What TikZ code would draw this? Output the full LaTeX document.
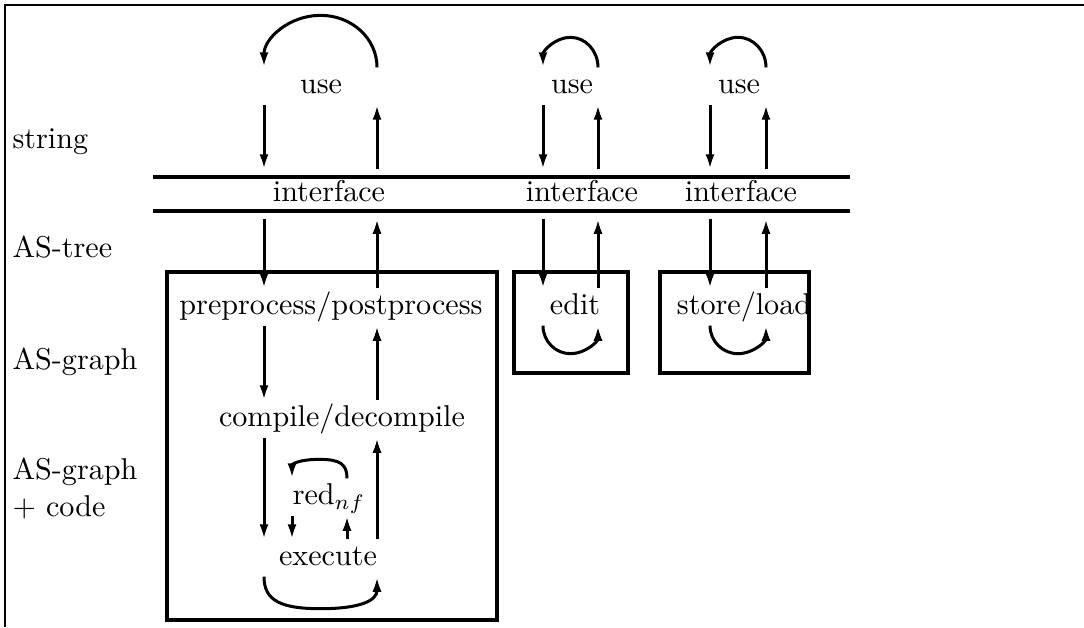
\documentclass[tikz,border=0pt]{standalone}
\usetikzlibrary{arrows.meta,calc}
\newcommand\myloop[5]{%
  \draw[arr] (#1) .. controls ($(#1)+(0,#4)$) and ($(#1)!#5!(#2)+(0,#3)$) ..
    ($(#1)!.5!(#2)+(0,#3)$) .. controls ($(#2)!#5!(#1)+(0,#3)$) and ($(#2)+(0,#4)$) .. (#2);}
\begin{document}
\begin{tikzpicture}[x=0.332pt,y=-0.332pt,
  lbl/.style={inner sep=0pt, text height=6.9pt, text depth=1.9pt, minimum height=12pt},
  iflbl/.style={lbl, minimum height=16pt},
  layer/.style={inner sep=0pt, anchor=base west},
  arr/.style={line width=1pt, -{Latex[length=5pt,width=3pt]}},
  band/.style={line width=1.3pt},
  box/.style={draw, line width=1.3pt},
  frame/.style={line width=0.7pt}
]
\useasboundingbox (0,0) rectangle (1084,627);
\draw[frame] (5,627) -- (5,5) -- (1084,5);

% columns
\coordinate (L1) at (264,0);
\coordinate (R1) at (377,0);
\coordinate (L2) at (543,0);
\coordinate (R2) at (598,0);
\coordinate (L3) at (710,0);
\coordinate (R3) at (766,0);
\coordinate (Lr) at (292,0);
\coordinate (Rr) at (347,0);

% layer labels
\node[layer] (s1) at (12,148) {string};
\node[layer] (s2) at (12,257) {AS-tree};
\node[layer] (s3) at (12,369) {AS-graph};
\node[layer] (s4) at (12,479) {AS-graph};
\node[layer] (s5) at (12,516) {$+$ code};

% interface band
\draw[band] (153,177) -- (850,177);
\draw[band] (153,211) -- (850,211);

% boxes
\draw[box] (167,272) rectangle (497,620);
\draw[box] (514,272) rectangle (628,373);
\draw[box] (660,272) rectangle (809,373);

% text nodes
\node[lbl] (use1) at (321,86) {use};
\node[lbl] (use2) at (572,86) {use};
\node[lbl] (use3) at (739,86) {use};
\node[iflbl] (if1) at (329,194) {interface};
\node[iflbl] (if2) at (582,194) {interface};
\node[iflbl] (if3) at (741,194) {interface};
\node[lbl] (pre) at (331,307) {preprocess/postprocess};
\node[lbl] (edit) at (575,307) {edit};
\node[lbl] (store) at (744,307) {store/load};
\node[lbl] (comp) at (342,419) {compile/decompile};
\node[lbl] (red) at (329,497) {red$_{nf}$};
\node[lbl] (exec) at (328,558) {execute};

% group 1 vertical arrows
\draw[arr] (use1.south -| L1) -- (if1.north -| L1);
\draw[arr] (if1.north -| R1) -- (use1.south -| R1);
\draw[arr] (if1.south -| L1) -- (pre.north -| L1);
\draw[arr] (pre.north -| R1) -- (if1.south -| R1);
\draw[arr] (pre.south -| L1) -- (comp.north -| L1);
\draw[arr] (comp.north -| R1) -- (pre.south -| R1);
\draw[arr] (comp.south -| L1) -- (exec.north -| L1);
\draw[arr] (exec.north -| R1) -- (comp.south -| R1);
\draw[arr] (red.south -| Lr) -- (exec.north -| Lr);
\draw[arr] (exec.north -| Rr) -- (red.south -| Rr);

% group 2
\draw[arr] (use2.south -| L2) -- (if2.north -| L2);
\draw[arr] (if2.north -| R2) -- (use2.south -| R2);
\draw[arr] (if2.south -| L2) -- (edit.north -| L2);
\draw[arr] (edit.north -| R2) -- (if2.south -| R2);

% group 3
\draw[arr] (use3.south -| L3) -- (if3.north -| L3);
\draw[arr] (if3.north -| R3) -- (use3.south -| R3);
\draw[arr] (if3.south -| L3) -- (store.north -| L3);
\draw[arr] (store.north -| R3) -- (if3.south -| R3);

% loop end points
\coordinate (u1a) at (use1.north -| R1);
\coordinate (u1b) at (use1.north -| L1);
\coordinate (u2a) at (use2.north -| R2);
\coordinate (u2b) at (use2.north -| L2);
\coordinate (u3a) at (use3.north -| R3);
\coordinate (u3b) at (use3.north -| L3);
\coordinate (eda) at (edit.south -| L2);
\coordinate (edb) at (edit.south -| R2);
\coordinate (sta) at (store.south -| L3);
\coordinate (stb) at (store.south -| R3);
\coordinate (rda) at (red.north -| Rr);
\coordinate (rdb) at (red.north -| Lr);
\coordinate (exa) at (exec.south -| L1);
\coordinate (exb) at (exec.south -| R1);

% loops
\myloop{u1a}{u1b}{-52}{-29}{0.224}
\myloop{u2a}{u2b}{-30}{-16.5}{0.224}
\myloop{u3a}{u3b}{-30}{-16.5}{0.224}
\myloop{eda}{edb}{28}{15.5}{0.224}
\myloop{sta}{stb}{28}{15.5}{0.224}
\myloop{rda}{rdb}{-19}{-14}{0.12}
\myloop{exa}{exb}{32}{24}{0.15}
\end{tikzpicture}
\end{document}
